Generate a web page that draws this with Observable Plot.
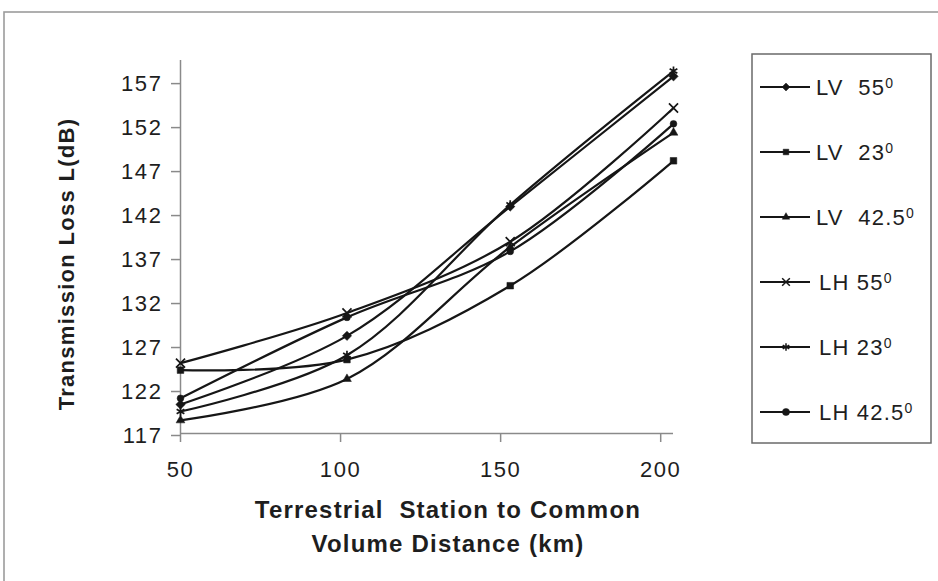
<!DOCTYPE html>
<html>
<head>
<meta charset="utf-8">
<script src="https://cdn.jsdelivr.net/npm/d3@7"></script>
<script src="https://cdn.jsdelivr.net/npm/@observablehq/plot@0.6"></script>
<style>
  body { margin: 0; background: #ffffff; }
  #chart { width: 938px; height: 581px; }
  #chart svg { font-family: "Liberation Sans", Arial, sans-serif; }
</style>
</head>
<body>
<div id="chart"></div>
<script>
// Distance from the terrestrial station to the common volume (km)
const distances = [50, 102, 153, 204];

// Transmission loss (dB) per polarisation / elevation angle
const seriesNames = ["LV 55", "LV 23", "LV 42.5", "LH 55", "LH 23", "LH 42.5"];
const polarisation = ["LV", "LV", "LV", "LH", "LH", "LH"];
const angles = ["55", "23", "42.5", "55", "23", "42.5"];
const lossLV55 = [120.3, 128.1, 142.8, 157.6];
const lossLV23 = [124.2, 125.4, 133.8, 148.0];
const lossLV425 = [118.5, 123.2, 138.2, 151.2];
const lossLH55 = [125.0, 130.7, 138.8, 154.0];
const lossLH23 = [119.5, 125.9, 143.0, 158.2];
const lossLH425 = [121.0, 130.2, 137.7, 152.2];

const yTicks = [117, 122, 127, 132, 137, 142, 147, 152, 157];
const xTicks = [50, 100, 150, 200];

const symbols = ["diamond2", "square2", "triangle2", "times", "asterisk", "circle"];
const filled = [true, true, true, false, false, true];

const allLoss = [lossLV55, lossLV23, lossLV425, lossLH55, lossLH23, lossLH425];
const rows = allLoss.flatMap((vals, i) =>
  vals.map((v, j) => ({series: seriesNames[i], idx: i, x: distances[j], y: v}))
);

const ink = "#161616";
const axisGrey = "#8a8a8a";
const textInk = "#1e1e1e";

const plot = Plot.plot({
  width: 938,
  height: 581,
  marginLeft: 180,
  marginRight: 265,
  marginTop: 60,
  marginBottom: 148,
  style: {background: "#ffffff", color: textInk, fontSize: "22px"},
  x: {domain: [50, 204], ticks: xTicks, label: null},
  y: {domain: [117, 159.4], ticks: yTicks, label: null},
  marks: [
    Plot.axisY({ticks: yTicks, tickSize: 9, tickPadding: 9, stroke: axisGrey, strokeWidth: 1.5,
      fill: textInk, fontSize: 22, dy: 2, tickFormat: d => String(d)}),
    Plot.axisX({ticks: xTicks, tickSize: 9, tickPadding: 19, stroke: axisGrey, strokeWidth: 1.5,
      fill: textInk, fontSize: 22, tickFormat: d => String(d)}),
    Plot.ruleY([117], {stroke: axisGrey, strokeWidth: 1.5}),
    Plot.ruleX([50], {stroke: axisGrey, strokeWidth: 1.5}),
    Plot.line(rows, {x: "x", y: "y", z: "series", curve: "catmull-rom", stroke: ink, strokeWidth: 2.2}),
    ...seriesNames.map((name, i) =>
      Plot.dot(rows.filter(d => d.idx === i), {
        x: "x", y: "y",
        symbol: () => symbols[i],
        r: symbols[i] === "circle" ? 3.4 : 4.2,
        fill: filled[i] ? ink : "none",
        stroke: ink,
        strokeWidth: filled[i] ? 0.5 : 1.7
      })
    )
  ]
});

document.getElementById("chart").appendChild(plot);

const svg = d3.select(plot);
svg.selectAll("g[aria-label='y-axis tick label'] text, g[aria-label='x-axis tick label'] text")
  .attr("letter-spacing", 1.6);

// Outer chart border
svg.append("rect")
  .attr("x", 4).attr("y", 12).attr("width", 950).attr("height", 590)
  .attr("fill", "none").attr("stroke", "#9c9c9c").attr("stroke-width", 1.6);

// Axis titles
svg.append("text")
  .attr("transform", "translate(74,264) rotate(-90)")
  .attr("text-anchor", "middle")
  .attr("font-weight", "bold").attr("font-size", 22).attr("letter-spacing", 1.3)
  .attr("fill", textInk)
  .text("Transmission Loss L(dB)");

const xTitle = svg.append("text")
  .attr("text-anchor", "middle").attr("font-weight", "bold")
  .attr("font-size", 24).attr("letter-spacing", 1.2).attr("fill", textInk);
xTitle.append("tspan").attr("x", 448).attr("y", 518).attr("xml:space", "preserve")
  .text("Terrestrial  Station to Common");
xTitle.append("tspan").attr("x", 448).attr("y", 552).text("Volume Distance (km)");

// Legend
const legend = svg.append("g").attr("text-anchor", "start");
legend.append("rect")
  .attr("x", 752).attr("y", 54).attr("width", 179).attr("height", 389)
  .attr("fill", "#fff").attr("stroke", "#6a6a6a").attr("stroke-width", 1.5);

const d3Symbols = {
  diamond2: d3.symbolDiamond2, square2: d3.symbolSquare2, triangle2: d3.symbolTriangle2,
  times: d3.symbolTimes, asterisk: d3.symbolAsterisk, circle: d3.symbolCircle
};

seriesNames.forEach((name, i) => {
  const cy = 87 + i * 65;
  const g = legend.append("g");
  g.append("line").attr("x1", 760).attr("x2", 810).attr("y1", cy).attr("y2", cy)
    .attr("stroke", ink).attr("stroke-width", 2);
  g.append("path")
    .attr("transform", `translate(786,${cy})`)
    .attr("d", d3.symbol(d3Symbols[symbols[i]], 40)())
    .attr("fill", filled[i] ? ink : "none").attr("stroke", ink)
    .attr("stroke-width", filled[i] ? 0.5 : 1.5);
  const t = g.append("text").attr("x", polarisation[i] === "LV" ? 816 : 819).attr("y", cy + 8)
    .attr("font-size", 22).attr("letter-spacing", 1.2).attr("fill", textInk)
    .attr("xml:space", "preserve");
  t.append("tspan").text(polarisation[i] + (polarisation[i] === "LV" ? "  " : " ") + angles[i]);
  t.append("tspan").attr("dy", -7).attr("font-size", 14).text("0");
});
</script>
</body>
</html>
